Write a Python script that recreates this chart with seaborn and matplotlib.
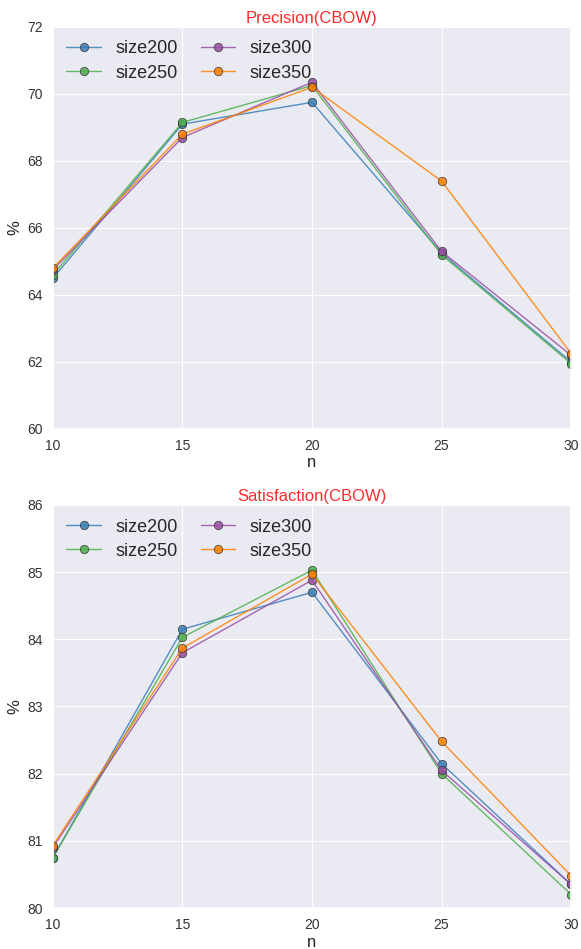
import numpy as np
import pandas as pd
import matplotlib
matplotlib.use("Agg")
import matplotlib.pyplot as plt
import seaborn as sns

# --- данни ---
n_values = [10, 15, 20, 25, 30]
sizes = ["size200", "size250", "size300", "size350"]

precision = {
    "size200": [64.5, 69.1, 69.75, 65.25, 62.0],
    "size250": [64.6, 69.15, 70.25, 65.2, 61.95],
    "size300": [64.75, 68.7, 70.35, 65.3, 62.2],
    "size350": [64.8, 68.8, 70.2, 67.4, 62.25],
}
satisfaction = {
    "size200": [80.75, 84.15, 84.7, 82.15, 80.35],
    "size250": [80.75, 84.03, 85.03, 82.0, 80.2],
    "size300": [80.9, 83.8, 84.88, 82.05, 80.35],
    "size350": [80.93, 83.87, 84.97, 82.48, 80.48],
}

palette = ["#377eb8", "#4daf4a", "#984ea3", "#ff7f00"]


def to_long(d):
    rows = []
    for s in sizes:
        for n, v in zip(n_values, d[s]):
            rows.append({"n": n, "value": v, "size": s})
    return pd.DataFrame(rows)


sns.set_theme(style="darkgrid", rc={"grid.linewidth": 0.7})
plt.rcParams["font.family"] = ["Liberation Sans", "DejaVu Sans"]

fig = plt.figure(figsize=(5.81, 9.49), dpi=100)
ax1 = fig.add_axes([0.091, 0.548, 0.892, 0.4236])
ax2 = fig.add_axes([0.091, 0.0432, 0.892, 0.4247])


def draw(ax, d, title, ylim, yticks):
    sns.lineplot(data=to_long(d), x="n", y="value", hue="size", palette=palette,
                 marker="o", markersize=6, markeredgecolor="#333333", markeredgewidth=0.6,
                 linewidth=1.0, alpha=0.85, ax=ax)
    ax.set_xlim(10, 30)
    ax.set_ylim(*ylim)
    ax.set_xticks(n_values)
    ax.set_yticks(yticks)
    ax.tick_params(labelsize=10, pad=1, colors="#333333")
    ax.set_xlabel("n", fontsize=12, labelpad=2)
    ax.set_ylabel("%", fontsize=12)
    ax.set_title(title, color="#ff2a2a", fontsize=12, pad=3)
    ax.legend(loc="upper left", ncol=2, fontsize=13, frameon=False,
              handlelength=1.9, handletextpad=0.8, columnspacing=1.3,
              borderaxespad=0.35, labelspacing=0.4)


draw(ax1, precision, "Precision(CBOW)", (60, 72), range(60, 73, 2))
draw(ax2, satisfaction, "Satisfaction(CBOW)", (80, 86), range(80, 87, 1))

fig.savefig("out.png", dpi=100)
